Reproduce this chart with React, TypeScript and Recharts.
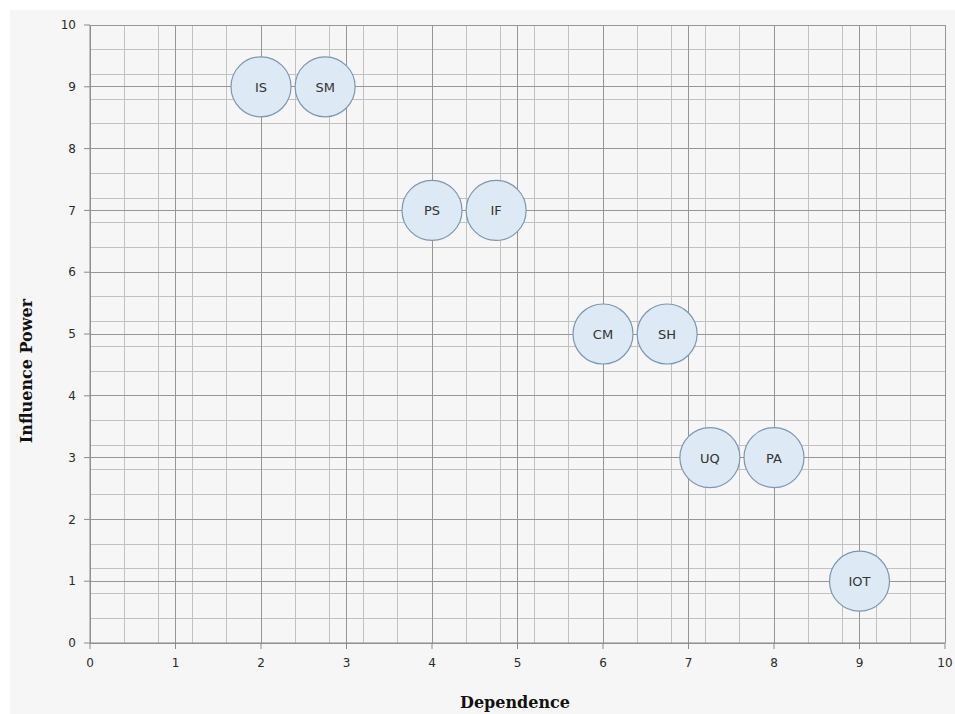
import { CartesianGrid, Scatter, ScatterChart, XAxis, YAxis } from "recharts";

const codes = ["IS", "SM", "PS", "IF", "CM", "SH", "UQ", "PA", "IOT"];
const dependence = [2, 2.75, 4, 4.75, 6, 6.75, 7.25, 8, 9];
const influence = [9, 9, 7, 7, 5, 5, 3, 3, 1];
const majorTicks = [0, 1, 2, 3, 4, 5, 6, 7, 8, 9, 10];
const minorTicks = Array.from({ length: 51 }, (_, i) => (i * 2) / 10);

const points = codes.map((code, i) => ({ code, x: dependence[i], y: influence[i] }));

const tickStyle = { fontFamily: "DejaVu Sans", fontSize: 12, fill: "#2a2a2a" };
const titleStyle = { fontFamily: "DejaVu Serif", fontWeight: 700, fontSize: 16, fill: "#111" };

function Bubble(props: any) {
  const { cx, cy, payload } = props;
  return (
    <g>
      <circle cx={cx} cy={cy} r={30} fill="#dde9f5" stroke="#7d97b0" strokeWidth={1.2} />
      <text x={cx} y={cy} dy={5} textAnchor="middle" fontFamily="DejaVu Sans" fontSize={13} fill="#333">
        {payload.code}
      </text>
    </g>
  );
}

export default function App() {
  return (
    <div style={{ position: "relative", width: 955, height: 714, background: "#fff" }}>
      <style>{`body{margin:0;overflow:hidden}`}</style>
      <div style={{ position: "absolute", left: 10, top: 10, width: 945, height: 704, background: "#f6f6f6" }} />
      <div style={{ position: "absolute", left: 0, top: 0 }}>
        <ScatterChart width={955} height={714} margin={{ top: 25, right: 10, bottom: 0, left: 10 }}>
          <CartesianGrid
            stroke="#c2c2c2"
            strokeWidth={1}
            shapeRendering="crispEdges"
            verticalValues={minorTicks}
            horizontalValues={minorTicks}
          />
          <CartesianGrid
            stroke="#969696"
            strokeWidth={1}
            shapeRendering="crispEdges"
            verticalValues={majorTicks}
            horizontalValues={majorTicks}
            fill="none"
          />
          <XAxis
            type="number"
            dataKey="x"
            domain={[0, 10]}
            ticks={majorTicks}
            height={71}
            stroke="#8a8a8a"
            tickSize={6}
            tickMargin={9}
            tick={tickStyle}
            label={{
              content: () => (
                <text x={515} y={708} textAnchor="middle" style={titleStyle}>
                  Dependence
                </text>
              ),
            }}
          />
          <YAxis
            type="number"
            dataKey="y"
            domain={[0, 10]}
            ticks={majorTicks}
            width={80}
            stroke="#8a8a8a"
            tickSize={6}
            tickMargin={8}
            tick={tickStyle}
            label={{
              content: () => (
                <text x={32} y={371} textAnchor="middle" transform="rotate(-90, 32, 371)" style={titleStyle}>
                  Influence Power
                </text>
              ),
            }}
          />
          <Scatter data={points} shape={<Bubble />} isAnimationActive={false} />
        </ScatterChart>
      </div>
    </div>
  );
}
